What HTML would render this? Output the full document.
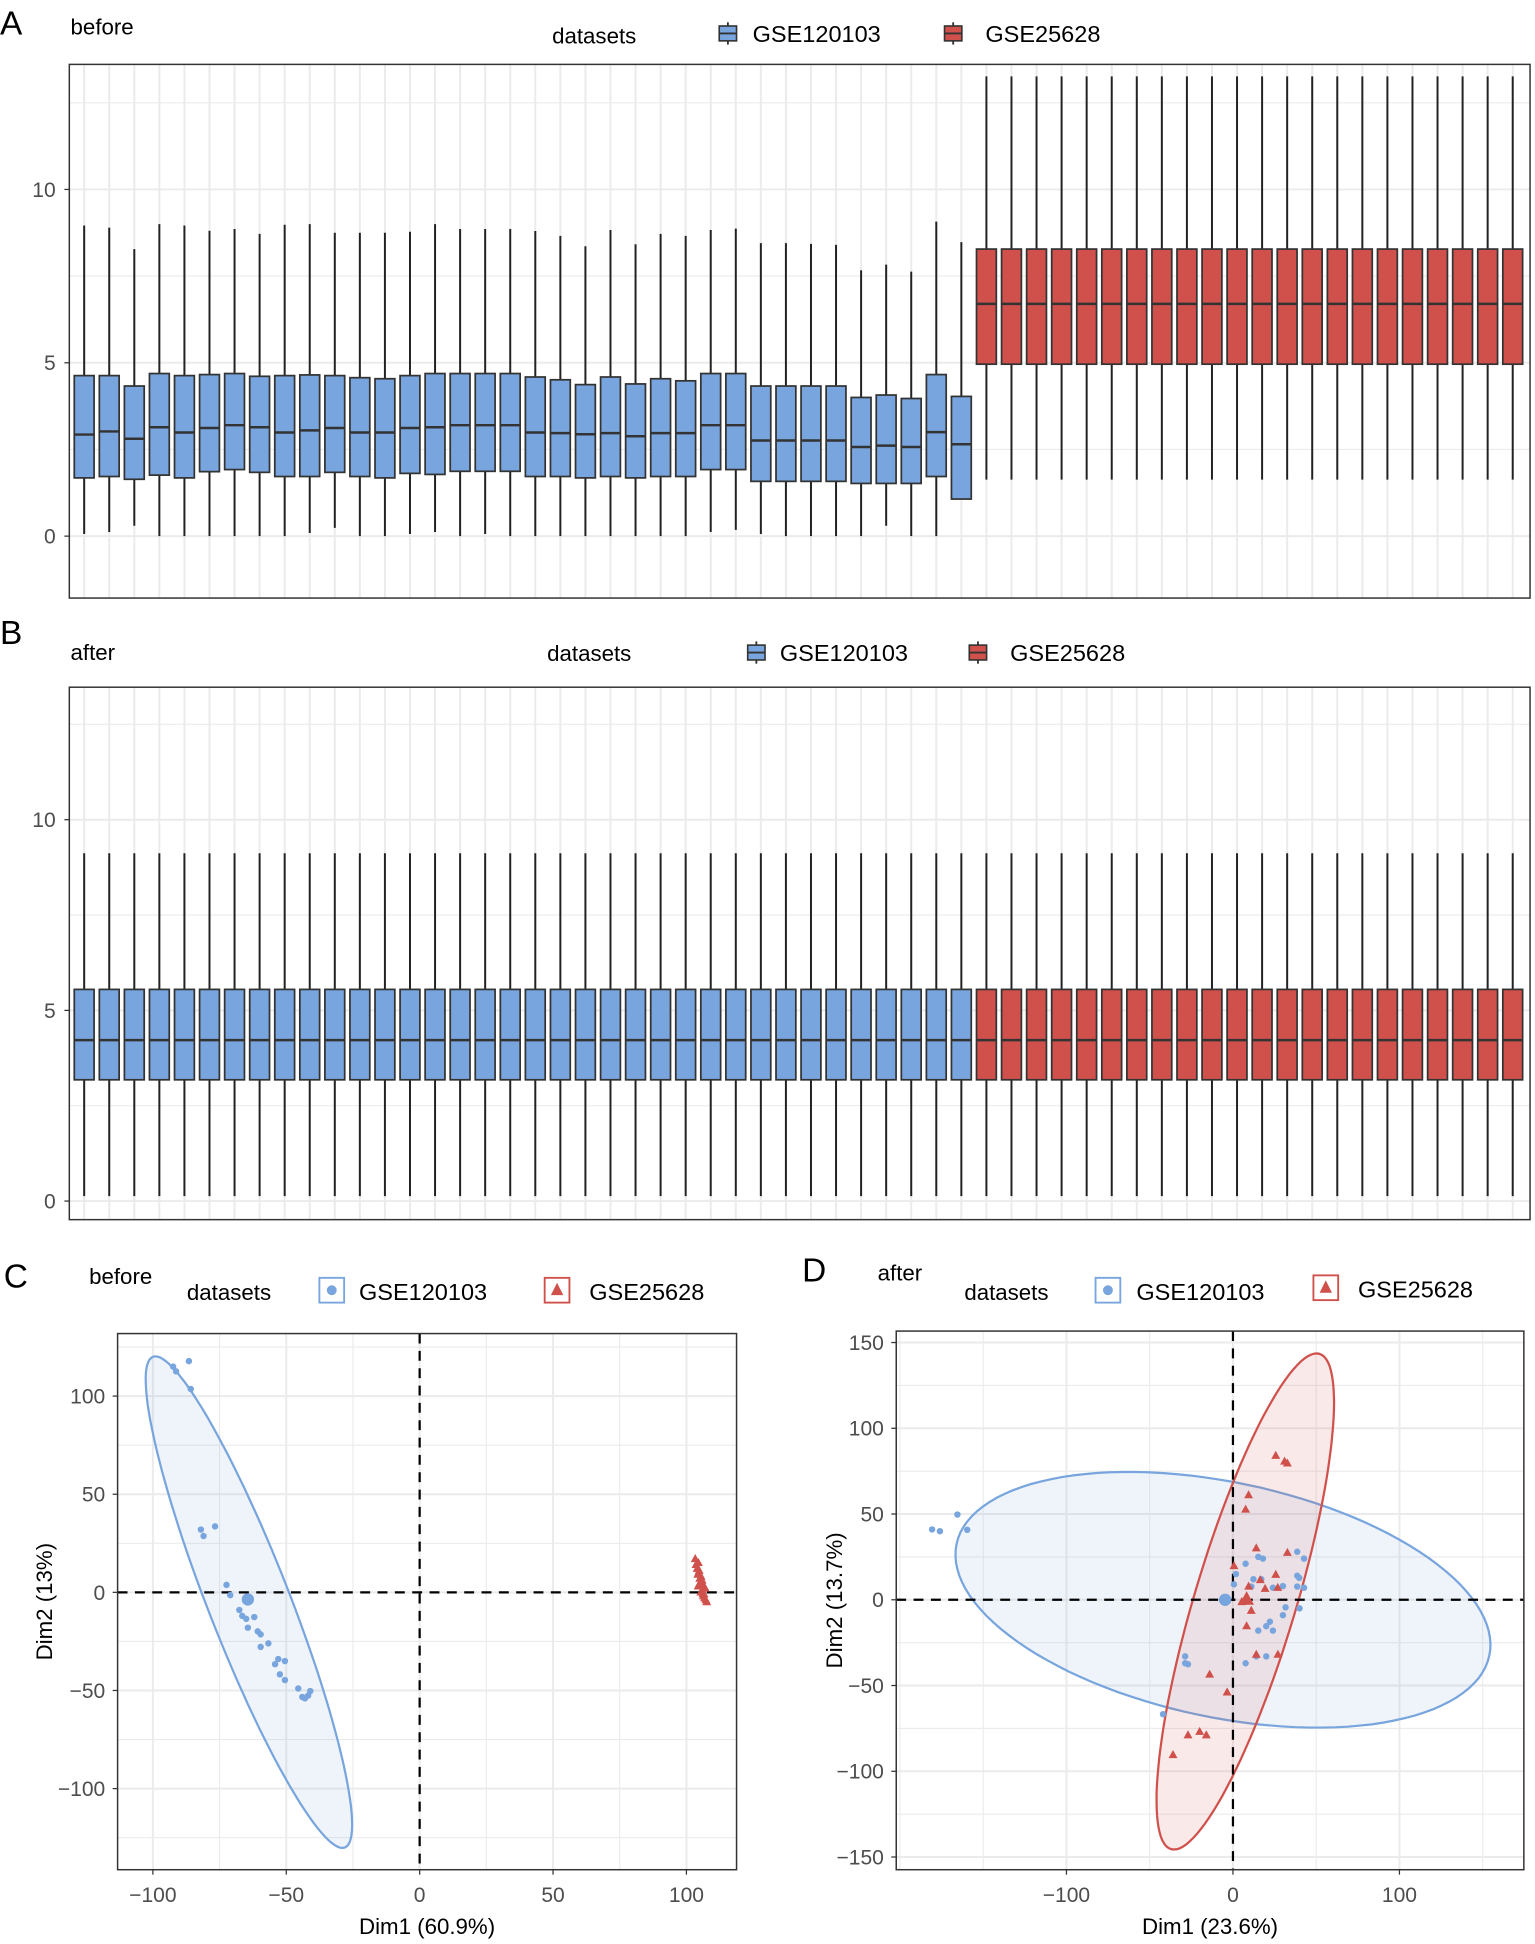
<!DOCTYPE html>
<html><head><meta charset="utf-8"><style>
html,body{margin:0;padding:0;background:#fff;}
svg{display:block;font-family:"Liberation Sans",Arial,sans-serif;}
</style></head><body>
<svg id="fig" width="1535" height="1944" viewBox="0 0 1240 1570" preserveAspectRatio="none" xmlns="http://www.w3.org/2000/svg"></svg>
<script>
// ---------- Data: Panel A (before) ----------
const aBlueQ3  = [4.63,4.63,4.33,4.69,4.63,4.66,4.69,4.61,4.63,4.65,4.63,4.57,4.54,4.63,4.69,4.69,4.69,4.69,4.59,4.51,4.37,4.59,4.39,4.54,4.48,4.69,4.69,4.33,4.33,4.33,4.33,4.0,4.07,3.97,4.66,4.03];
const aBlueMed = [2.93,3.02,2.81,3.14,2.99,3.12,3.2,3.14,2.99,3.05,3.12,2.99,2.99,3.12,3.14,3.2,3.2,3.2,2.99,2.97,2.94,2.97,2.88,2.97,2.97,3.2,3.2,2.76,2.76,2.76,2.76,2.57,2.61,2.57,3.0,2.65];
const aBlueQ1  = [1.68,1.72,1.64,1.76,1.68,1.86,1.92,1.84,1.72,1.72,1.84,1.72,1.68,1.81,1.78,1.87,1.87,1.87,1.72,1.72,1.68,1.72,1.68,1.72,1.72,1.92,1.92,1.58,1.58,1.58,1.58,1.52,1.52,1.52,1.72,1.07];
const aBlueHi  = [8.96,8.9,8.28,9.0,8.96,8.81,8.86,8.72,8.98,9.0,8.75,8.75,8.75,8.78,9.0,8.86,8.86,8.86,8.8,8.66,8.36,8.83,8.42,8.72,8.66,8.83,8.87,8.45,8.45,8.43,8.4,7.67,7.83,7.63,9.07,8.48];
const aBlueLo  = [0.06,0.12,0.3,0,0,0,0,0,0,0.09,0.24,0,0,0.06,0.12,0,0.06,0,0,0,0,0,0,0,0,0.12,0.18,0.06,0,0,0,0,0.3,0,0,1.07];
const aRedQ3  = Array(22).fill(8.28);
const aRedMed = Array(22).fill(6.7);
const aRedQ1  = Array(22).fill(4.96);
const aRedHi  = Array(22).fill(13.26);
const aRedLo  = Array(22).fill(1.63);
// ---------- Data: Panel B (after) ----------
const bQ3 = Array(58).fill(5.55);
const bMed = Array(58).fill(4.22);
const bQ1 = Array(58).fill(3.18);
const bHi = Array(58).fill(9.12);
const bLo = Array(58).fill(0.13);
const nBlue = 36;
const boxTicks = [0,5,10];
// ---------- Data: Panel C ----------
const cBlueX = [-92.4,-91.3,-86.5,-85.8,-82,-81,-76.7,-72.4,-71,-67.6,-66.5,-65,-62,-64.4,-60.7,-59.6,-59.6,-56.7,-53,-50.5,-54.2,-52.4,-50.5,-45.5,-44,-41.8,-41,-43];
const cBlueY = [115,112.6,117.8,103.6,32,28.7,33.6,3.8,-1.4,-9,-12,-13.5,-12.6,-18,-19.9,-21.4,-27.8,-26,-34,-35,-36.6,-41.8,-44.7,-49,-53.3,-52.6,-50.3,-54];
const cBlueMean = [-64.4,-3.6];
const cRedX = [103.3,103.6,104,104.3,104.5,104.8,105,105.2,105.5,105.7,106,106.2,104.8,105.4,106.4,106.8,107,107.3,105.9,104.6,106.6,107.6];
const cRedY = [17,14,12,9,15,11,7,5,8,3,1,-1,4,0,-2,-3,2,-4,6,10,-1,-5];
const cRedMean = [105.5,4];
const cEllCenter = [-64,-5], cEllA = [36,-125], cEllB = [14.2,7.8];
const cXTicks = [-100,-50,0,50,100], cYTicks = [-100,-50,0,50,100];
// ---------- Data: Panel D ----------
const dBlueX = [-180.7,-176,-165.5,-159.6,7.6,15.2,18,12.3,17,11,24,30,38.6,39.8,38.6,42.7,42.7,38.6,40,31.6,30,22.2,20,24,15.2,20,14,7.6,-28.7,-27,-28.7,-42,0.6,1.8];
const dBlueY = [41,40,49.7,40.8,21,25,24,12,12,7.7,7,8,14,12.8,7.7,7,24,28,-5,-4.4,-9,-12.8,-15.4,-18,-18,-33,-33,-37,-33,-37.6,-37,-66.7,9,15];
const dBlueMean = [-4.7,0];
const dRedX = [25.7,31,32.7,9.4,7.6,14,32.7,0.6,16.4,25.7,26.9,9.4,19.3,5.3,11,8.2,14,27,-14,-3.5,-27,-20,-16,-36];
const dRedY = [84,80.6,79.5,61,52.6,30,27.4,19.7,11.5,14.6,7,7.7,6.4,-1.3,-6.4,-15.4,-32,-32,-43.6,-54,-79,-77,-79,-90.5];
const dRedMean = [8.2,0];
const dBlueEllC=[-6,0], dBlueEllA=[160,-32.5], dBlueEllB=[-14.5,-67.1];
const dRedEllC=[7.4,-1], dRedEllA=[44.6,144.4], dRedEllB=[29.2,-8.5];
const dXTicks = [-100,0,100], dYTicks = [-150,-100,-50,0,50,100,150];

const BLUE="#78a5dd", RED="#d0504b", SVGNS="http://www.w3.org/2000/svg";
const svg=document.getElementById('fig');
function el(tag,attrs,parent){const e=document.createElementNS(SVGNS,tag);for(const k in attrs)e.setAttribute(k,attrs[k]);(parent||svg).appendChild(e);return e;}
function txt(x,y,s,attrs,parent){const t=el('text',Object.assign({x:x,y:y},attrs||{}),parent);t.textContent=s;return t;}

function boxPanel(cfg){
  const g=el('g',{});
  
  
  const {x0,x1,y0,y1,vmin,vmax}=cfg;
  const ys=v=>y1-(v-vmin)/(vmax-vmin)*(y1-y0);
  const n=58, first=x0+12, step=(x1-x0-26)/(n-1);
  const xs=i=>first+i*step;
  // grid
  for(let v=-2.5;v<=vmax;v+=2.5){ if(v<vmin) continue; const l=el('line',{x1:x0,x2:x1,y1:ys(v),y2:ys(v),stroke:'#ebebeb','stroke-width':(v%5===0)?1.6:0.9},g);  }
  for(let i=0;i<n;i++){ const l=el('line',{x1:xs(i),x2:xs(i),y1:y0,y2:y1,stroke:'#ebebeb','stroke-width':1.6},g);  }
  for(let i=0;i<n;i++){
    const blue=i<nBlue, j=blue?i:i-nBlue;
    const q3=cfg.q3(i,blue,j),md=cfg.md(i,blue,j),q1=cfg.q1(i,blue,j),hi=cfg.hi(i,blue,j),lo=cfg.lo(i,blue,j);
    const bg=el('g',{},g);
    
    
    const cx=xs(i), w=16;
    el('line',{x1:cx,x2:cx,y1:ys(hi),y2:ys(lo),stroke:'#222','stroke-width':1.6},bg);
    el('rect',{x:cx-w/2,y:ys(q3),width:w,height:ys(q1)-ys(q3),fill:blue?BLUE:RED,stroke:'#333','stroke-width':1.4},bg);
    el('line',{x1:cx-w/2,x2:cx+w/2,y1:ys(md),y2:ys(md),stroke:'#333','stroke-width':2},bg);
  }
  el('rect',{x:x0,y:y0,width:x1-x0,height:y1-y0,fill:'none',stroke:'#333','stroke-width':1.2},g);
  for(const t of boxTicks){
    el('line',{x1:x0-4,x2:x0,y1:ys(t),y2:ys(t),stroke:'#333','stroke-width':1},g);
    const tl=txt(x0-11,ys(t)+6,String(t),{'font-size':17,fill:'#4d4d4d','text-anchor':'end'},g);
     
  }
}

function legendBox(x,y,color,label,lx){
  const g=el('g',{});
  
  
  el('line',{x1:x+8,x2:x+8,y1:y-9,y2:y+9,stroke:'#333','stroke-width':1.5},g);
  el('rect',{x:x+1,y:y-6,width:14,height:12,fill:color,stroke:'#333','stroke-width':1.3},g);
  el('line',{x1:x+1,x2:x+15,y1:y,y2:y,stroke:'#333','stroke-width':1.5},g);
  txt(lx,y+7,label,{'font-size':19,fill:'#000'},g);
}

function header(letter,lx,ly,sub,sx,sy,dx,dy,b1x,b2x,lab1x,lab2x,boxType){
  const L=txt(lx,ly,letter,{'font-size':27,fill:'#000'});  
  const S=txt(sx,sy,sub,{'font-size':18,fill:'#000'});  
  const D=txt(dx,dy,'datasets',{'font-size':18,fill:'#000'});  
}

// Panel A
header('A',0,28,'before',57,28,446,35);
legendBox(580,27,BLUE,'GSE120103',608);
legendBox(762,27,RED,'GSE25628',796);
boxPanel({name:'panel-a-boxplot',x0:56,x1:1236,y0:52,y1:483,vmin:-1.786,vmax:13.607,
  q3:(i,b,j)=>b?aBlueQ3[j]:aRedQ3[j], md:(i,b,j)=>b?aBlueMed[j]:aRedMed[j], q1:(i,b,j)=>b?aBlueQ1[j]:aRedQ1[j],
  hi:(i,b,j)=>b?aBlueHi[j]:aRedHi[j], lo:(i,b,j)=>b?aBlueLo[j]:aRedLo[j]});
// Panel B
header('B',0,520,'after',57,533,442,534);
legendBox(603,527,BLUE,'GSE120103',630);
legendBox(782,527,RED,'GSE25628',816);
boxPanel({name:'panel-b-boxplot',x0:56,x1:1236,y0:555,y1:985,vmin:-0.487,vmax:13.474,
  q3:i=>bQ3[i], md:i=>bMed[i], q1:i=>bQ1[i], hi:i=>bHi[i], lo:i=>bLo[i]});

function pcaLegend(x,y,color,label,lx,tri){
  const g=el('g',{});
  
  
  el('rect',{x:x,y:y-10,width:20,height:20,fill:'#fff',stroke:color,'stroke-width':1.5},g);
  if(tri) el('polygon',{points:`${x+10},${y-6} ${x+15},${y+4} ${x+5},${y+4}`,fill:color},g);
  else el('circle',{cx:x+10,cy:y,r:4,fill:color},g);
  txt(lx,y+8,label,{'font-size':19,fill:'#000'},g);
}

function pcaPanel(cfg){
  const g=el('g',{});
  
  
  const {x0,x1,y0,y1}=cfg;
  const xs=v=>cfg.px0+(v-cfg.xa)*cfg.kx, ys=v=>cfg.py0-(v-cfg.ya)*cfg.ky;
  const clip=el('clipPath',{id:cfg.name+'-clip'},g); el('rect',{x:x0,y:y0,width:x1-x0,height:y1-y0},clip);
  const inner=el('g',{'clip-path':`url(#${cfg.name}-clip)`},g);
  const maj=(t,arr)=>arr.includes(t);
  for(let v=cfg.gx[0];v<=cfg.gx[1];v+=cfg.gx[2]){ const l=el('line',{x1:xs(v),x2:xs(v),y1:y0,y2:y1,stroke:'#ebebeb','stroke-width':maj(v,cfg.xt)?1.6:0.9},inner);  }
  for(let v=cfg.gy[0];v<=cfg.gy[1];v+=cfg.gy[2]){ const l=el('line',{x1:x0,x2:x1,y1:ys(v),y2:ys(v),stroke:'#ebebeb','stroke-width':maj(v,cfg.yt)?1.6:0.9},inner);  }
  for(const e of cfg.ells){
    let d='';
    for(let k=0;k<=120;k++){const t=k/120*2*Math.PI;const vx=e.c[0]+Math.cos(t)*e.a[0]+Math.sin(t)*e.b[0];const vy=e.c[1]+Math.cos(t)*e.a[1]+Math.sin(t)*e.b[1];d+=(k?'L':'M')+xs(vx).toFixed(1)+','+ys(vy).toFixed(1);}
    const p=el('path',{d:d+'Z',fill:e.color,'fill-opacity':0.12,stroke:e.color,'stroke-width':1.8},inner);
     
  }
  const h=el('line',{x1:x0,x2:x1,y1:ys(0),y2:ys(0),stroke:'#000','stroke-width':1.8,'stroke-dasharray':'8,6'},inner);
   
  const v=el('line',{x1:xs(0),x2:xs(0),y1:y0,y2:y1,stroke:'#000','stroke-width':1.8,'stroke-dasharray':'8,6'},inner);
   
  cfg.bx.forEach((x,i)=>{const c=el('circle',{cx:xs(x),cy:ys(cfg.by[i]),r:2.6,fill:BLUE},inner);  });
  cfg.rx.forEach((x,i)=>{const X=xs(x),Y=ys(cfg.ry[i]);const p=el('polygon',{points:`${X},${Y-4} ${X+3.6},${Y+2.5} ${X-3.6},${Y+2.5}`,fill:RED},inner);  });
  const bm=el('circle',{cx:xs(cfg.bm[0]),cy:ys(cfg.bm[1]),r:5,fill:BLUE},inner);  
  const X=xs(cfg.rm[0]),Y=ys(cfg.rm[1]);
  const rm=el('polygon',{points:`${X},${Y-7} ${X+6},${Y+4} ${X-6},${Y+4}`,fill:RED},inner);  
  el('rect',{x:x0,y:y0,width:x1-x0,height:y1-y0,fill:'none',stroke:'#333','stroke-width':1.2},g);
  for(const t of cfg.xt){ el('line',{x1:xs(t),x2:xs(t),y1:y1,y2:y1+4,stroke:'#333'},g); const l=txt(xs(t),y1+26,t<0?'\u2212'+(-t):String(t),{'font-size':17,fill:'#4d4d4d','text-anchor':'middle'},g);  }
  for(const t of cfg.yt){ el('line',{x1:x0-4,x2:x0,y1:ys(t),y2:ys(t),stroke:'#333'},g); const l=txt(x0-10,ys(t)+6,t<0?'\u2212'+(-t):String(t),{'font-size':17,fill:'#4d4d4d','text-anchor':'end'},g);  }
  const xl=txt((x0+x1)/2,y1+52,cfg.xlab,{'font-size':18,fill:'#000','text-anchor':'middle'},g);  
  const yl=txt(0,0,cfg.ylab,{'font-size':18,fill:'#000','text-anchor':'middle',transform:`translate(${cfg.ylx},${(y0+y1)/2}) rotate(-90)`},g);  
}

// Panel C
header('C',3,1040,'before',72,1037,151,1050);
pcaLegend(258,1042,BLUE,'GSE120103',290,false);
pcaLegend(440,1042,RED,'GSE25628',476,true);
pcaPanel({name:'panel-c-pca',x0:95,x1:595,y0:1077,y1:1510,px0:339,xa:0,kx:2.155,py0:1286,ya:0,ky:1.585,
  gx:[-100,100,25],gy:[-125,125,25],xt:cXTicks,yt:cYTicks,
  ells:[{name:'ellipse-gse120103',c:cEllCenter,a:cEllA,b:cEllB,color:BLUE}],
  bx:cBlueX,by:cBlueY,rx:cRedX,ry:cRedY,bm:cBlueMean,rm:cRedMean,xlab:'Dim1 (60.9%)',ylab:'Dim2 (13%)',ylx:42});
// Panel D
header('D',648,1035,'after',709,1034,779,1050);
pcaLegend(885,1042,BLUE,'GSE120103',918,false);
pcaLegend(1061,1040,RED,'GSE25628',1097,true);
pcaPanel({name:'panel-d-pca',x0:724,x1:1231,y0:1075,y1:1510,px0:996,xa:0,kx:1.345,py0:1292,ya:0,ky:1.385,
  gx:[-200,200,50],gy:[-175,175,25],xt:dXTicks,yt:dYTicks,
  ells:[{name:'ellipse-gse120103',c:dBlueEllC,a:dBlueEllA,b:dBlueEllB,color:BLUE},{name:'ellipse-gse25628',c:dRedEllC,a:dRedEllA,b:dRedEllB,color:RED}],
  bx:dBlueX,by:dBlueY,rx:dRedX,ry:dRedY,bm:dBlueMean,rm:dRedMean,xlab:'Dim1 (23.6%)',ylab:'Dim2 (13.7%)',ylx:680});
</script>
</body></html>
